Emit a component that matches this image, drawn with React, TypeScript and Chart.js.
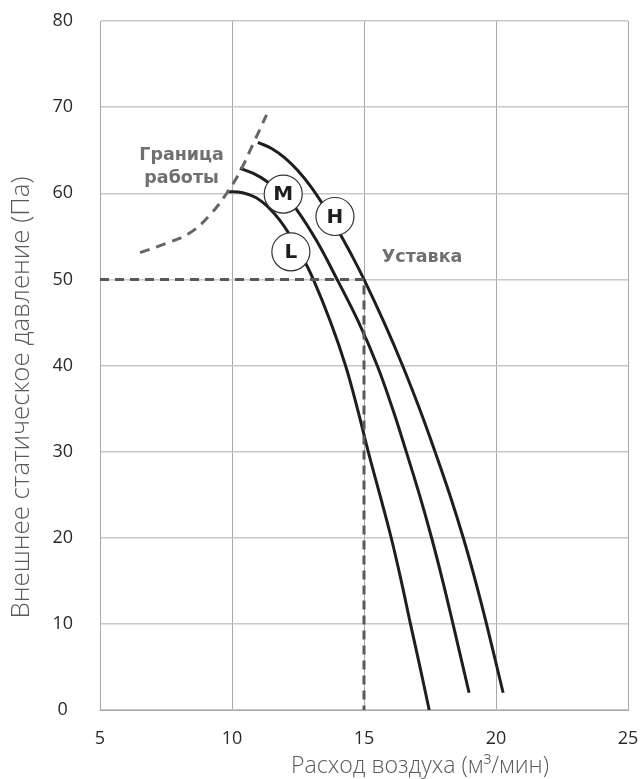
import React, { useEffect, useRef } from "react";
import { Chart, registerables } from "chart.js";

Chart.register(...registerables);

// Axis ticks
const xTicks = [5, 10, 15, 20, 25];
const yTicks = [0, 10, 20, 30, 40, 50, 60, 70, 80];

// Curve H
const hX = [10.98, 11.5, 12.0, 12.5, 13.0, 13.5, 14.0, 14.5, 15.0, 15.76, 16.46, 17.1, 17.69, 18.25, 18.76, 19.22, 19.64, 20.27];
const hY = [65.9, 65.2, 64.1, 62.6, 60.7, 58.4, 55.8, 53.0, 50.0, 45.0, 40.0, 35.0, 30.0, 25.0, 20.0, 15.0, 10.0, 2.0];
// Curve M
const mX = [10.3, 10.81, 11.31, 11.94, 12.45, 13.2, 13.98, 14.8, 15.5, 16.08, 16.6, 17.1, 17.56, 17.98, 18.37, 18.98];
const mY = [62.9, 62.3, 61.4, 59.9, 58.1, 54.5, 50.0, 45.0, 40.0, 35.0, 30.0, 25.0, 20.0, 15.0, 10.0, 2.0];
// Curve L
const lX = [9.8, 10.4, 10.9, 11.4, 11.8, 12.2, 12.6, 13.08, 13.74, 14.3, 14.75, 15.16, 15.6, 16.03, 16.41, 16.76, 17.12, 17.47];
const lY = [60.2, 60.05, 59.5, 58.3, 56.9, 55.1, 53.0, 50.0, 45.0, 40.0, 35.0, 30.0, 25.0, 20.0, 15.0, 10.0, 5.0, 0.0];
// Operating boundary (dashed)
const bX = [6.52, 7.52, 8.41, 9.17, 9.8, 10.3, 10.81, 11.31];
const bY = [53.1, 54.2, 55.4, 57.5, 60.0, 62.5, 65.8, 69.1];
// Set point lines
const spX = [5, 15, 15];
const spY = [50, 50, 0];

// Circle markers (speed labels)
const markerNames = ["L", "M", "H"];
const markerX = [12.23, 11.94, 13.9];
const markerY = [53.2, 59.9, 57.3];

const yTitle = "Внешнее статическое давление (Па)";
const xTitle = "Расход воздуха (м³/мин)";
const boundaryLabel = ["Граница", "работы"];
const setpointLabel = "Уставка";

const pts = (xs: number[], ys: number[]) => xs.map((x, i) => ({ x, y: ys[i] }));

export default function App() {
  const ref = useRef<HTMLCanvasElement | null>(null);

  useEffect(() => {
    if (!ref.current) return;
    const overlay = {
      id: "overlay",
      afterDatasetsDraw(chart: any) {
        const ctx = chart.ctx;
        const xs = chart.scales.x;
        const ys = chart.scales.y;
        ctx.save();
        for (let i = 0; i < markerNames.length; i++) {
          const px = xs.getPixelForValue(markerX[i]);
          const py = ys.getPixelForValue(markerY[i]);
          ctx.beginPath();
          ctx.arc(px, py, 19, 0, Math.PI * 2);
          ctx.fillStyle = "#ffffff";
          ctx.fill();
          ctx.lineWidth = 1.2;
          ctx.strokeStyle = "#333333";
          ctx.stroke();
          ctx.fillStyle = "#1e1e1e";
          ctx.font = "bold 20px 'DejaVu Sans'";
          ctx.textAlign = "center";
          ctx.textBaseline = "middle";
          ctx.fillText(markerNames[i], px, py + 1);
        }
        ctx.fillStyle = "#707070";
        ctx.font = "bold 17.5px 'DejaVu Sans'";
        ctx.textAlign = "center";
        ctx.textBaseline = "middle";
        ctx.fillText(boundaryLabel[0], xs.getPixelForValue(8.09), ys.getPixelForValue(64.4));
        ctx.fillText(boundaryLabel[1], xs.getPixelForValue(8.09), ys.getPixelForValue(61.7));
        ctx.fillText(setpointLabel, xs.getPixelForValue(17.2), ys.getPixelForValue(52.6));
        ctx.restore();
      },
      afterDraw(chart: any) {
        const ctx = chart.ctx;
        const area = chart.chartArea;
        ctx.save();
        ctx.fillStyle = "#5a5a5a";
        ctx.textAlign = "center";
        ctx.textBaseline = "middle";
        let size = 20;
        ctx.font = `300 ${size}px 'Open Sans'`;
        const w = ctx.measureText(yTitle).width;
        size = (size * 442) / w;
        ctx.font = `300 ${size}px 'Open Sans'`;
        ctx.translate(22, (area.top + area.bottom) / 2 + 32);
        ctx.rotate(-Math.PI / 2);
        ctx.fillText(yTitle, 0, 0);
        ctx.restore();
        ctx.save();
        ctx.fillStyle = "#5a5a5a";
        ctx.textAlign = "center";
        ctx.textBaseline = "middle";
        let s2 = 20;
        ctx.font = `300 ${s2}px 'Open Sans'`;
        const w2 = ctx.measureText(xTitle).width;
        s2 = (s2 * 258) / w2;
        ctx.font = `300 ${s2}px 'Open Sans'`;
        ctx.fillText(xTitle, 420, 766);
        ctx.restore();
      },
    };

    const line = (xs: number[], ys: number[]) => ({
      data: pts(xs, ys),
      showLine: true,
      borderColor: "#1e1e1e",
      borderWidth: 3,
      pointRadius: 0,
      tension: 0.4,
    });

    const chart = new Chart(ref.current, {
      type: "scatter",
      data: {
        datasets: [
          {
            data: pts(spX, spY),
            showLine: true,
            borderColor: "#595959",
            borderWidth: 3,
            borderDash: [9, 6],
            pointRadius: 0,
            tension: 0,
          },
          {
            data: pts(bX, bY),
            showLine: true,
            borderColor: "#666666",
            borderWidth: 3,
            borderDash: [10, 7],
            pointRadius: 0,
            tension: 0.4,
          },
          line(lX, lY),
          line(mX, mY),
          line(hX, hY),
        ],
      } as any,
      options: {
        responsive: false,
        animation: false,
        events: [],
        layout: { padding: { left: 0, right: 12, top: 21, bottom: 0 } },
        plugins: { legend: { display: false }, tooltip: { enabled: false } },
        scales: {
          x: {
            type: "linear",
            min: 5,
            max: 25,
            afterFit: (s: any) => {
              s.height = 69;
              s.paddingLeft = 0;
              s.paddingRight = 0;
            },
            afterBuildTicks: (s: any) => {
              s.ticks = xTicks.map((v) => ({ value: v }));
            },
            grid: { color: "#a8a8a8", lineWidth: 1, drawTicks: false },
            border: { color: "#a8a8a8" },
            ticks: { color: "#2a2a2a", padding: 18, font: { family: "'Open Sans'", size: 18 } },
          },
          y: {
            type: "linear",
            min: 0,
            max: 80,
            afterFit: (s: any) => {
              s.width = 100;
              s.paddingTop = 0;
              s.paddingBottom = 0;
            },
            afterBuildTicks: (s: any) => {
              s.ticks = yTicks.map((v) => ({ value: v }));
            },
            grid: { color: "#c8c8c8", lineWidth: 1.5, drawTicks: false },
            border: { color: "#a8a8a8" },
            ticks: { color: "#2a2a2a", padding: 27, crossAlign: "center", font: { family: "'Open Sans'", size: 18 } },
          },
        },
      } as any,
      plugins: [overlay],
    });
    return () => chart.destroy();
  }, []);

  return (
    <div style={{ position: "absolute", left: 0, top: 0, width: 640, height: 779, background: "#fff" }}>
      <canvas ref={ref} width={640} height={779} style={{ display: "block" }} />
    </div>
  );
}
